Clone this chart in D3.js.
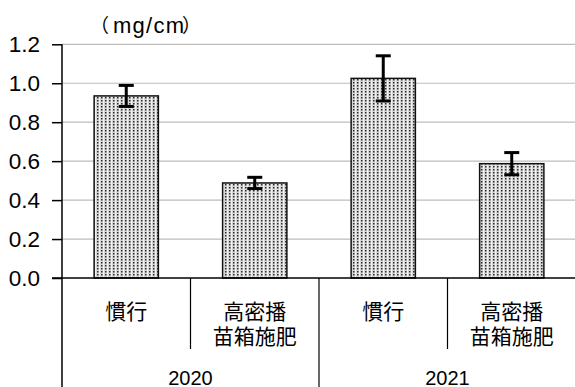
<!DOCTYPE html>
<html><head><meta charset="utf-8">
<script src="https://cdn.jsdelivr.net/npm/d3@7"></script>
<style>body{margin:0;background:#fff}svg{display:block}</style>
</head><body>
<svg id="c" width="575" height="387"></svg>
<script>
const categories = ["慣行", "高密播\n苗箱施肥", "慣行", "高密播\n苗箱施肥"];
const years = ["2020", "2021"];
const values = [0.935, 0.488, 1.025, 0.587];
const errors = [0.054, 0.029, 0.116, 0.057];
const yTicks = [0, 0.2, 0.4, 0.6, 0.8, 1.0, 1.2];
const unitParts = ["（", "mg/cm", "）"];

(function () {
const svg = d3.select("#c");
const pLeft = 62, pRight = 576, pTop = 44.3, pBottom = 278;
const cjk = "'Noto Sans CJK JP', sans-serif";
const num = "'Liberation Sans', Arial, sans-serif";

const y = d3.scaleLinear().domain([0, 1.2]).range([pBottom, pTop]);
const x = d3.scaleBand().domain(d3.range(categories.length)).range([pLeft, pRight]).paddingInner(0).paddingOuter(0);

// pattern
const defs = svg.append("defs");
const pat = defs.append("pattern").attr("id", "dots").attr("patternUnits", "userSpaceOnUse")
  .attr("width", 4).attr("height", 3);
pat.append("rect").attr("width", 4).attr("height", 3).attr("fill", "#d6d6d6");
pat.append("rect").attr("x", 3).attr("width", 1).attr("height", 3).attr("fill", "#f2f2f2");
pat.append("rect").attr("x", 1).attr("y", 1).attr("width", 1.5).attr("height", 1.5).attr("fill", "#2e2e2e");

// gridlines
svg.append("g").selectAll("line").data(yTicks.filter(d => d > 0)).join("line")
  .attr("x1", pLeft).attr("x2", 575).attr("y1", d => y(d)).attr("y2", d => y(d))
  .attr("stroke", "#bdbdbd").attr("stroke-width", 1.2);

// y axis
const yAxis = d3.axisLeft(y).tickValues(yTicks).tickFormat(d3.format(".1f")).tickSize(10).tickPadding(12);
const ya = svg.append("g").attr("transform", `translate(${pLeft},0)`).call(yAxis);
ya.select(".domain").remove();
ya.selectAll(".tick line").attr("stroke", "#000").attr("stroke-width", 1.5);
ya.selectAll(".tick text").attr("font-family", num).attr("font-size", 22.5).attr("fill", "#000");

// bars
const bw = x.bandwidth() * 0.5;
svg.append("g").selectAll("rect").data(values).join("rect")
  .attr("x", (d, i) => x(i) + (x.bandwidth() - bw) / 2)
  .attr("width", bw)
  .attr("y", d => y(d)).attr("height", d => y(0) - y(d))
  .attr("fill", "url(#dots)").attr("stroke", "#111").attr("stroke-width", 1.5);

// error bars
const eg = svg.append("g").attr("stroke", "#000").attr("stroke-width", 3);
values.forEach((v, i) => {
  const cx = x(i) + x.bandwidth() / 2;
  eg.append("line").attr("x1", cx).attr("x2", cx).attr("y1", y(v + errors[i])).attr("y2", y(v - errors[i]));
  eg.append("line").attr("x1", cx - 7.5).attr("x2", cx + 7.5).attr("y1", y(v + errors[i])).attr("y2", y(v + errors[i]));
  eg.append("line").attr("x1", cx - 7.5).attr("x2", cx + 7.5).attr("y1", y(v - errors[i])).attr("y2", y(v - errors[i]));
});

// axes lines
svg.append("line").attr("x1", 52).attr("x2", 575).attr("y1", y(0)).attr("y2", y(0)).attr("stroke", "#000").attr("stroke-width", 1.5);
svg.append("line").attr("x1", pLeft).attr("x2", pLeft).attr("y1", pTop).attr("y2", 387).attr("stroke", "#000").attr("stroke-width", 1.5);

// category separators
categories.forEach((c, i) => {
  if (i === 0) return;
  const xx = x(i);
  const isYear = i % 2 === 0;
  svg.append("line").attr("x1", xx).attr("x2", xx).attr("y1", y(0)).attr("y2", isYear ? 387 : 349)
    .attr("stroke", "#000").attr("stroke-width", 1.2);
});

// category labels
categories.forEach((c, i) => {
  const lines = c.split("\n");
  lines.forEach((ln, k) => {
    svg.append("text").attr("text-anchor", "middle").attr("font-family", cjk).attr("font-size", 21).attr("fill", "#000")
      .attr("x", x(i) + x.bandwidth() / 2).attr("y", 318.5 + k * 25.5).text(ln);
  });
});

// year labels
years.forEach((yr, j) => {
  const cx = (x(j * 2) + x(j * 2 + 1) + x.bandwidth()) / 2;
  svg.append("text").attr("x", cx).attr("y", 385).attr("text-anchor", "middle")
    .attr("font-family", num).attr("font-size", 20).attr("fill", "#000").text(yr);
});

// unit label
const ut = svg.append("text").attr("y", 33).attr("fill", "#000");
ut.append("tspan").attr("x", 90).attr("font-family", cjk).attr("font-size", 19).text(unitParts[0]);
ut.append("tspan").attr("x", 113).attr("font-family", num).attr("font-size", 22)
  .attr("textLength", 71).attr("lengthAdjust", "spacing").text(unitParts[1]);
ut.append("tspan").attr("x", 182).attr("font-family", cjk).attr("font-size", 19).text(unitParts[2]);
})();
</script>
</body></html>
